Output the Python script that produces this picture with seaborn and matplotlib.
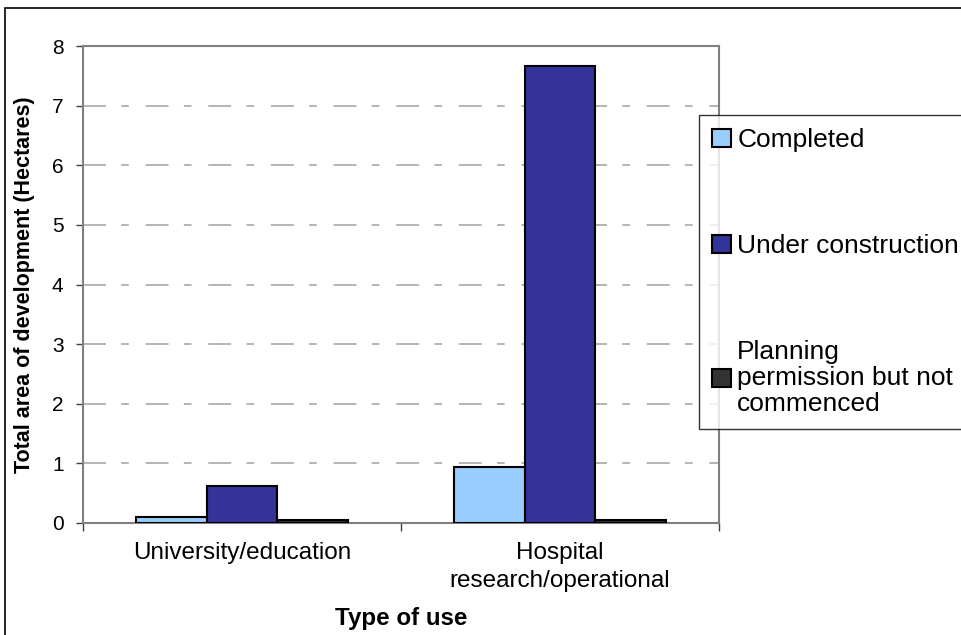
import seaborn as sns
import matplotlib.pyplot as plt
import matplotlib.patches as mpatches
import pandas as pd

# data
types = ['University/education', 'Hospital\nresearch/operational']
statuses = ['Completed', 'Under construction', 'Planning\npermission but not\ncommenced']
completed = [0.10, 0.94]
under_construction = [0.62, 7.67]
planning = [0.05, 0.05]
colors = ['#99CCFF', '#333399', '#333333']

rows = []
for i, t in enumerate(types):
    rows.append((t, statuses[0], completed[i]))
    rows.append((t, statuses[1], under_construction[i]))
    rows.append((t, statuses[2], planning[i]))
df = pd.DataFrame(rows, columns=['Type of use', 'Status', 'Area'])

sns.set_style('white')
plt.rcParams['font.family'] = ['Liberation Sans', 'DejaVu Sans']
plt.rcParams['text.color'] = 'black'
plt.rcParams['axes.labelcolor'] = 'black'
plt.rcParams['xtick.color'] = 'black'
plt.rcParams['ytick.color'] = 'black'

fig = plt.figure(figsize=(9.62, 6.35), dpi=100)
ax = fig.add_axes([83 / 962, 1 - 523 / 635, (719 - 83) / 962, (523 - 46) / 635])

sns.barplot(data=df, x='Type of use', y='Area', hue='Status', hue_order=statuses,
            palette=colors, edgecolor='black', linewidth=1.5, width=0.667,
            saturation=1, gap=0, ax=ax, zorder=3)

ax.set_ylim(0, 8)
ax.set_xlim(-0.5, 1.5)
ax.set_yticks(range(0, 9))
for yv in range(1, 8):
    ax.axhline(yv, color='#a0a0a0', lw=1.1, dashes=(15, 10, 5, 11), zorder=1)

for s in ax.spines.values():
    s.set_color('#808080')
    s.set_linewidth(1.5)

ax.tick_params(axis='y', which='major', direction='out', length=5, width=1,
               color='#404040', labelsize=15, pad=9, left=True)
ax.set_xticks([0, 1])
ax.set_xticklabels(types)
ax.tick_params(axis='x', which='major', length=0, labelsize=17.5, pad=14)
for t in ax.get_xticklabels():
    t.set_linespacing(1.35)
ax.set_xticks([-0.5, 0.5, 1.5], minor=True)
ax.tick_params(axis='x', which='minor', direction='out', length=6, width=1,
               color='#404040', bottom=True)

ax.set_xlabel('Type of use', fontsize=17.4, fontweight='bold', labelpad=10.5)
ax.set_ylabel('Total area of development (Hectares)', fontsize=15.5,
              fontweight='bold', labelpad=12)

ax.get_legend().remove()
handles = [mpatches.Patch(facecolor=c, edgecolor='black', linewidth=1.5) for c in colors]
leg = fig.legend(handles, statuses, loc='upper left',
                 bbox_to_anchor=(699 / 962, 1 - 115 / 635), fontsize=19,
                 frameon=True, fancybox=False, edgecolor='black',
                 handlelength=0.7, handleheight=0.7, handletextpad=0.25,
                 labelspacing=3.1, borderpad=0.5, borderaxespad=0)
leg.get_frame().set_linewidth(1)
for t in leg.get_texts():
    t.set_linespacing(1.1)

# outer chart border
fig.patches.append(mpatches.Rectangle((5 / 962, -0.1), 1.0, 1.1 - 8 / 635,
                                      transform=fig.transFigure, fill=False,
                                      edgecolor='black', lw=1.2))

fig.savefig('out.png', dpi=100)
